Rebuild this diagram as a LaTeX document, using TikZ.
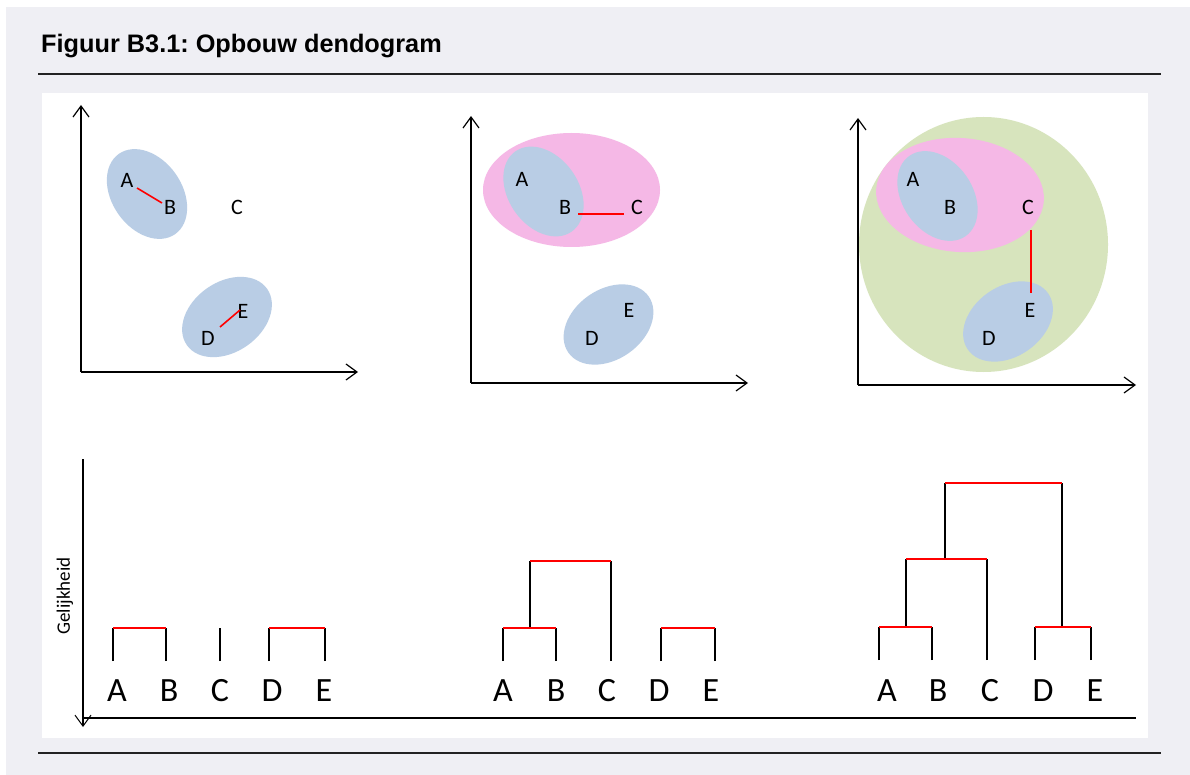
\documentclass[tikz,border=0pt]{standalone}
\usepackage{fontspec}
\setmainfont{Carlito}
\newfontfamily\titlefont{Liberation Sans}
\usetikzlibrary{arrows.meta}
\frenchspacing

\definecolor{bggray}{HTML}{EFEFF4}
\definecolor{setblue}{HTML}{B9CDE5}
\definecolor{setpink}{HTML}{F5B8E6}
\definecolor{setgreen}{HTML}{D7E4BD}
\definecolor{rulegray}{HTML}{222222}

\begin{document}
\begin{tikzpicture}[x=1pt,y=-1pt,
  axisline/.style={line width=1.7pt, -{Straight Barb[length=11pt,width=16pt,line width=1.2pt]}},
  treeline/.style={line width=1.6pt, black},
  linkline/.style={line width=1.6pt, red},
  ptlabel/.style={anchor=base, inner sep=0pt, font=\fontsize{22}{26}\selectfont},
  leaflabel/.style={anchor=base, inner sep=0pt, font=\fontsize{34}{40}\selectfont},
  blueset/.style={fill=setblue},
  pinkset/.style={fill=setpink},
  greenset/.style={fill=setgreen}]
\useasboundingbox (0,0) rectangle (1190,775);

% frame
\fill[bggray] (6,7) rectangle (1190,775);
\fill[white] (42,93) rectangle (1148,738);
\draw[line width=2.2pt, rulegray] (38,74) -- (1161,74);
\draw[line width=2.2pt, rulegray] (38,753) -- (1161,753);
\node[anchor=base west, inner sep=0pt, font=\titlefont\bfseries\fontsize{25.3}{29}\selectfont] (title) at (41,53) {Figuur B3.1: Opbouw dendogram};

% ---- scatter 1
\coordinate (O1) at (81,372);
\coordinate (Y1) at (81,105);
\coordinate (X1) at (358,372);
\draw[axisline] (O1) -- (Y1);
\draw[axisline] (O1) -- (X1);

\fill[blueset] (147,194) ellipse [x radius=49pt, y radius=35pt, rotate=-55];
\fill[blueset] (227,317) ellipse [x radius=49pt, y radius=35pt, rotate=35];

\node[ptlabel] (A1) at (127,188) {A};
\node[ptlabel] (B1) at (170,215) {B};
\node[ptlabel] (C1) at (237,215) {C};
\node[ptlabel] (D1) at (208,345) {D};
\node[ptlabel] (E1) at (243,318) {E};

\coordinate (AB1a) at (137,188);
\coordinate (AB1b) at (162,203);
\coordinate (DE1a) at (220,327);
\coordinate (DE1b) at (240,310);
\draw[linkline] (AB1a) -- (AB1b);
\draw[linkline] (DE1a) -- (DE1b);

% ---- scatter 2
\coordinate (O2) at (471,383);
\coordinate (Y2) at (471,116);
\coordinate (X2) at (748,383);
\draw[axisline] (O2) -- (Y2);
\draw[axisline] (O2) -- (X2);

\fill[pinkset] (571.5,190) ellipse [x radius=88.5pt, y radius=57pt];
\fill[blueset] (543.5,191.5) ellipse [x radius=49pt, y radius=35pt, rotate=-55];
\fill[blueset] (608.5,324.5) ellipse [x radius=49pt, y radius=35pt, rotate=35];

\node[ptlabel] (A2) at (522,187) {A};
\node[ptlabel] (B2) at (565,215) {B};
\node[ptlabel] (C2) at (637,215) {C};
\node[ptlabel] (D2) at (592,345) {D};
\node[ptlabel] (E2) at (629,317) {E};

\coordinate (BC2a) at (578,214);
\coordinate (BC2b) at (624,214);
\draw[linkline] (BC2a) -- (BC2b);

% ---- scatter 3
\coordinate (O3) at (858,385);
\coordinate (Y3) at (858,118);
\coordinate (X3) at (1136,385);

\fill[greenset] (983.5,244.5) ellipse [x radius=124.5pt, y radius=127.5pt];
\fill[pinkset] (960,195) ellipse [x radius=84pt, y radius=57pt, rotate=-4];
\fill[blueset] (937.5,196) ellipse [x radius=49pt, y radius=35pt, rotate=-55];
\fill[blueset] (1008,321.5) ellipse [x radius=49pt, y radius=35pt, rotate=35];
\draw[axisline] (O3) -- (Y3);
\draw[axisline] (O3) -- (X3);

\node[ptlabel] (A3) at (913,187) {A};
\node[ptlabel] (B3) at (950,215) {B};
\node[ptlabel] (C3) at (1028,215) {C};
\node[ptlabel] (D3) at (989,345) {D};
\node[ptlabel] (E3) at (1030,317) {E};

\coordinate (CE3a) at (1031,230);
\coordinate (CE3b) at (1031,293);
\draw[linkline] (CE3a) -- (CE3b);

% ---- dendrogram axes
\coordinate (DT) at (83,459);
\coordinate (DB) at (83,727);
\coordinate (DO) at (83,718);
\coordinate (DR) at (1136,718);
\draw[line width=1.3pt, -{Straight Barb[length=11pt,width=16pt,line width=1pt]}] (DT) -- (DB);
\draw[line width=1.3pt] (DO) -- (DR);
\node[rotate=90, inner sep=0pt, font=\fontsize{19}{22}\selectfont] (sim) at (65,596) {Gelijkheid};

% ---- dendrogram 1
\coordinate (a1) at (113,661);  \coordinate (ta1) at (113,628);
\coordinate (b1) at (166,661);  \coordinate (tb1) at (166,628);
\coordinate (c1) at (220,661);  \coordinate (tc1) at (220,628);
\coordinate (d1) at (269,661);  \coordinate (td1) at (269,628);
\coordinate (e1) at (325,661);  \coordinate (te1) at (325,628);
\draw[treeline] (a1) -- (ta1);
\draw[treeline] (b1) -- (tb1);
\draw[treeline] (c1) -- (tc1);
\draw[treeline] (d1) -- (td1);
\draw[treeline] (e1) -- (te1);
\draw[linkline] (ta1) -- (tb1);
\draw[linkline] (td1) -- (te1);

\node[leaflabel] (LA1) at (117,701) {A};
\node[leaflabel] (LB1) at (169,701) {B};
\node[leaflabel] (LC1) at (220,701) {C};
\node[leaflabel] (LD1) at (272,701) {D};
\node[leaflabel] (LE1) at (324,701) {E};

% ---- dendrogram 2
\coordinate (a2) at (503,661);  \coordinate (ta2) at (503,628);
\coordinate (b2) at (556,661);  \coordinate (tb2) at (556,628);
\coordinate (c2) at (611,661);  \coordinate (tc2) at (611,561);
\coordinate (d2) at (661,661);  \coordinate (td2) at (661,628);
\coordinate (e2) at (715,661);  \coordinate (te2) at (715,628);
\coordinate (mab2) at (530,628); \coordinate (tab2) at (530,561);
\draw[treeline] (a2) -- (ta2);
\draw[treeline] (b2) -- (tb2);
\draw[treeline] (c2) -- (tc2);
\draw[treeline] (d2) -- (td2);
\draw[treeline] (e2) -- (te2);
\draw[treeline] (mab2) -- (tab2);
\draw[linkline] (ta2) -- (tb2);
\draw[linkline] (tab2) -- (tc2);
\draw[linkline] (td2) -- (te2);

\node[leaflabel] (LA2) at (503,701) {A};
\node[leaflabel] (LB2) at (556,701) {B};
\node[leaflabel] (LC2) at (607,701) {C};
\node[leaflabel] (LD2) at (659,701) {D};
\node[leaflabel] (LE2) at (711,701) {E};

% ---- dendrogram 3
\coordinate (a3) at (879,660);  \coordinate (ta3) at (879,627);
\coordinate (b3) at (932,660);  \coordinate (tb3) at (932,627);
\coordinate (c3) at (987,660);  \coordinate (tc3) at (987,559);
\coordinate (d3) at (1035,660); \coordinate (td3) at (1035,627);
\coordinate (e3) at (1091,660); \coordinate (te3) at (1091,627);
\coordinate (mab3) at (906,627);  \coordinate (tab3) at (906,559);
\coordinate (mabc3) at (945,559); \coordinate (tabc3) at (945,483);
\coordinate (mde3) at (1062,627); \coordinate (tde3) at (1062,483);
\draw[treeline] (a3) -- (ta3);
\draw[treeline] (b3) -- (tb3);
\draw[treeline] (c3) -- (tc3);
\draw[treeline] (d3) -- (td3);
\draw[treeline] (e3) -- (te3);
\draw[treeline] (mab3) -- (tab3);
\draw[treeline] (mabc3) -- (tabc3);
\draw[treeline] (mde3) -- (tde3);
\draw[linkline] (ta3) -- (tb3);
\draw[linkline] (tab3) -- (tc3);
\draw[linkline] (tabc3) -- (tde3);
\draw[linkline] (td3) -- (te3);

\node[leaflabel] (LA3) at (887,701) {A};
\node[leaflabel] (LB3) at (938,701) {B};
\node[leaflabel] (LC3) at (990,701) {C};
\node[leaflabel] (LD3) at (1043,701) {D};
\node[leaflabel] (LE3) at (1095,701) {E};
\end{tikzpicture}
\end{document}
